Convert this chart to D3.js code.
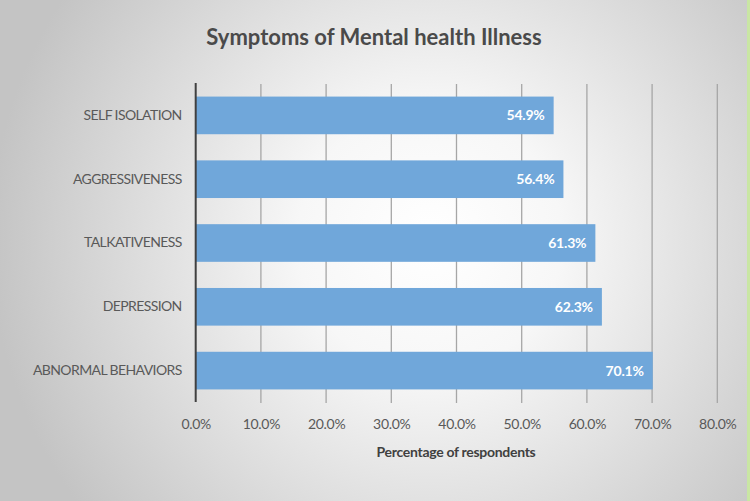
<!DOCTYPE html>
<html>
<head>
<meta charset="utf-8">
<script src="https://cdn.jsdelivr.net/npm/d3@7/dist/d3.min.js"></script>
<style>
  html, body { margin: 0; padding: 0; background: #fff; }
  svg { display: block; }
</style>
</head>
<body>
<svg id="chart" width="750" height="501"></svg>
<script>
const categories = ["SELF ISOLATION", "AGGRESSIVENESS", "TALKATIVENESS", "DEPRESSION", "ABNORMAL BEHAVIORS"];
const values = [54.9, 56.4, 61.3, 62.3, 70.1];
const tickValues = [0, 10, 20, 30, 40, 50, 60, 70, 80];
const titleText = "Symptoms of Mental health Illness";
const xAxisTitle = "Percentage of respondents";

const W = 750, H = 501;
const svg = d3.select("#chart");
const font = "Lato, 'Open Sans', sans-serif";

// background radial gradient
const defs = svg.append("defs");
const rg = defs.append("radialGradient").attr("id", "bg")
  .attr("gradientUnits", "userSpaceOnUse")
  .attr("cx", 430).attr("cy", 240).attr("r", 440);
rg.append("stop").attr("offset", "0%").attr("stop-color", "#ffffff");
rg.append("stop").attr("offset", "30%").attr("stop-color", "#f7f7f7");
rg.append("stop").attr("offset", "100%").attr("stop-color", "#c4c4c4");
svg.append("rect").attr("width", W).attr("height", H).attr("fill", "url(#bg)");
svg.append("rect").attr("x", W - 3).attr("y", 0).attr("width", 3).attr("height", H).attr("fill", "#c9e6a4");

const x = d3.scaleLinear().domain([0, 80]).range([195.7, 717.3]);
const y = d3.scaleBand().domain(categories).range([83.5, 402.5]).paddingInner(0.41).paddingOuter(0.205);

// gridlines
svg.append("g").selectAll("line").data(tickValues.slice(1)).join("line")
  .attr("x1", d => x(d)).attr("x2", d => x(d))
  .attr("y1", 84).attr("y2", 403)
  .attr("stroke", "#a6a6a6").attr("stroke-width", 1.3);

// bars
svg.append("g").selectAll("rect").data(values).join("rect")
  .attr("x", x(0)).attr("y", (d, i) => y(categories[i]))
  .attr("width", d => x(d) - x(0)).attr("height", y.bandwidth())
  .attr("fill", "#70a7da");

// value labels
svg.append("g").selectAll("text").data(values).join("text")
  .attr("x", d => x(d) - 9).attr("y", (d, i) => y(categories[i]) + y.bandwidth() / 2)
  .attr("dy", "0.35em").attr("text-anchor", "end")
  .attr("font-family", font).attr("font-weight", "bold").attr("font-size", 14)
  .attr("letter-spacing", -0.2)
  .attr("fill", "#ffffff").text(d => d.toFixed(1) + "%");

// y axis line
svg.append("line").attr("x1", x(0)).attr("x2", x(0)).attr("y1", 83).attr("y2", 402)
  .attr("stroke", "#404040").attr("stroke-width", 2);

// category labels
const yAxis = d3.axisLeft(y).tickSize(0).tickPadding(14);
const yg = svg.append("g").attr("transform", `translate(${x(0)},0)`).call(yAxis);
yg.select(".domain").remove();
yg.selectAll("text").attr("font-family", font).attr("font-size", 14)
  .attr("letter-spacing", -0.6).attr("fill", "#595959");

// x axis tick labels
const xAxis = d3.axisBottom(x).tickValues(tickValues).tickSize(0).tickPadding(0)
  .tickFormat(d => d.toFixed(1) + "%");
const xg = svg.append("g").attr("transform", "translate(0,419)").call(xAxis);
xg.select(".domain").remove();
xg.selectAll("text").attr("font-family", font).attr("font-size", 14)
  .attr("letter-spacing", -0.3).attr("fill", "#595959");

// axis title
svg.append("text").attr("x", 456).attr("y", 457).attr("text-anchor", "middle")
  .attr("font-family", font).attr("font-weight", "bold").attr("font-size", 14)
  .attr("letter-spacing", -0.3)
  .attr("fill", "#404040").text(xAxisTitle);

// title
svg.append("text").attr("x", 374).attr("y", 45).attr("text-anchor", "middle")
  .attr("font-family", font).attr("font-weight", "bold").attr("font-size", 22)
  .attr("fill", "#4a4a4a").text(titleText);
</script>
</body>
</html>
